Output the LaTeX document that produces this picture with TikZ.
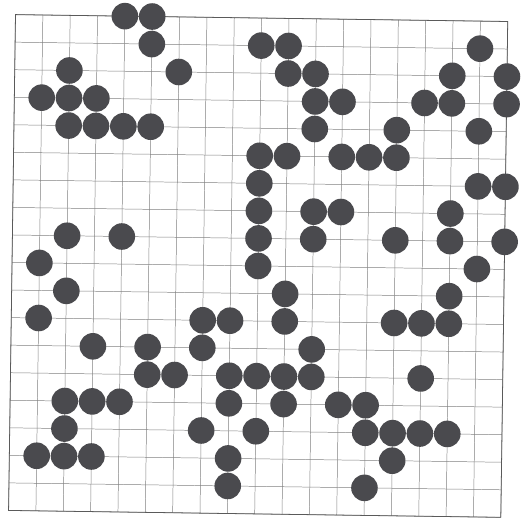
\documentclass[tikz,border=0pt]{standalone}
\usepackage{tikz}
\definecolor{stone}{RGB}{74,74,78}
\definecolor{gridline}{RGB}{128,128,128}
\definecolor{edgeline}{RGB}{90,90,90}

\begin{document}
\begin{tikzpicture}[
  x=0.5mm, y=-0.5mm,
  gridrule/.style={draw=gridline, line width=0.7pt},
  boardedge/.style={draw=edgeline, line width=1.1pt},
  stonenode/.style={circle, fill=stone, inner sep=0pt, minimum size=13.3mm}
]
\fill[white] (0,0) rectangle (524,532);
\useasboundingbox (0,0) rectangle (524,532);
\begin{scope}[rotate around={-0.8:(257,266)}]
% board lines
\foreach \i in {0,...,18} {
  \draw[gridrule] ({12+27.35*\i},18) -- ({12+27.35*\i},513.9);
  \draw[gridrule] (12,{18+27.55*\i}) -- (504.3,{18+27.55*\i});
}
\draw[boardedge] (12,18) rectangle (504.3,513.9);
% stones, row by row
\foreach \r/\cols in {
  0/{4,5},
  1/{5,9,10,17},
  2/{2,6,10,11,16,18},
  3/{1,2,3,11,12,15,16,18},
  4/{2,3,4,5,11,14,17},
  5/{9,10,12,13,14},
  6/{9,17,18},
  7/{9,11,12,16},
  8/{2,4,9,11,14,16,18},
  9/{1,9,17},
  10/{2,10,16},
  11/{1,7,8,10,14,15,16},
  12/{3,5,7,11},
  13/{5,6,8,9,10,11,15},
  14/{2,3,4,8,10,12,13},
  15/{2,7,9,13,14,15,16},
  16/{1,2,3,8,14},
  17/{8,13}} {
  \foreach \c in \cols
    \node[stonenode] (s\c-\r) at ({12+27.35*\c},{18+27.55*\r}) {};
}
\end{scope}
\end{tikzpicture}
\end{document}
